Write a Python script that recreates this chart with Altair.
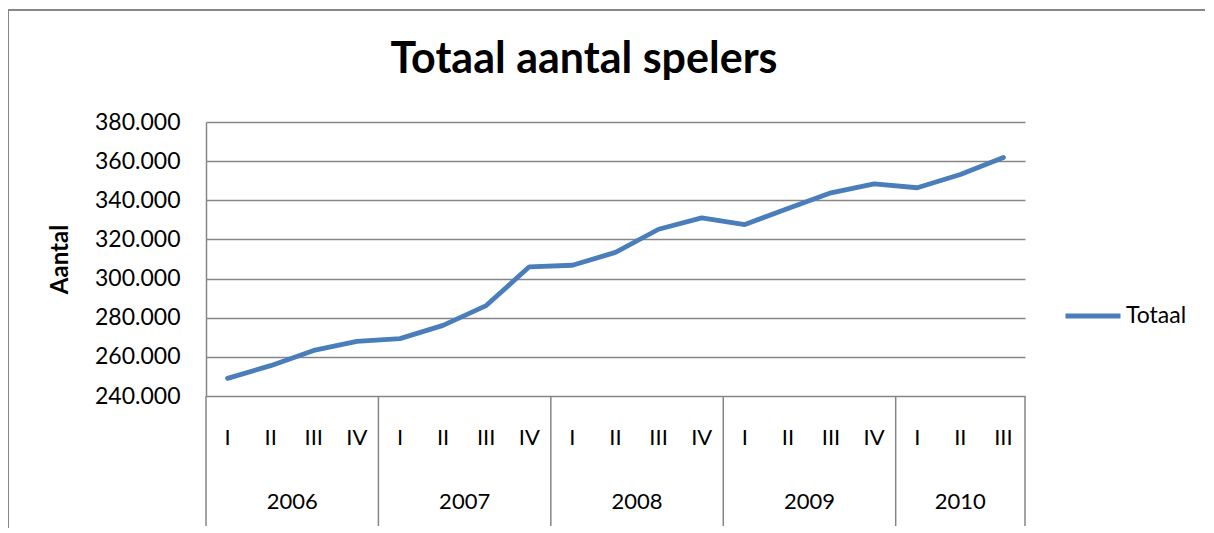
import altair as alt
import pandas as pd

# ---- data ----
years = ["2006"] * 4 + ["2007"] * 4 + ["2008"] * 4 + ["2009"] * 4 + ["2010"] * 3
quarters = ["I", "II", "III", "IV"] * 4 + ["I", "II", "III"]
values = [249000, 255500, 263300, 267900,
          269300, 276100, 286200, 306000,
          306800, 313400, 325200, 331000,
          327600, 335800, 343800, 348400,
          346400, 353200, 361900]
year_labels = ["2006", "2007", "2008", "2009", "2010"]
y_ticks = [240000, 260000, 280000, 300000, 320000, 340000, 360000, 380000]
series_name = "Totaal"

W, H = 819, 274
FONT = "Lato"
GRAY = "#868686"
BLUE = "#4A7EBB"

df = pd.DataFrame({
    "idx": list(range(len(values))),
    "year": years,
    "quarter": quarters,
    "value": values,
    "series": [series_name] * len(values),
})

year_df = df.groupby("year", as_index=False)["idx"].mean()
counts = df.groupby("year")["idx"].count().tolist()
bounds = [-0.5]
for c in counts:
    bounds.append(bounds[-1] + c)
sep_df = pd.DataFrame({"b": bounds})

xscale = alt.Scale(domain=[-0.5, len(values) - 0.5], nice=False, zero=False)
yscale = alt.Scale(domain=[240000, 380000], nice=False, zero=False)

one = pd.DataFrame({"a": [0]})

# outer chart border (top and left)
border_top = alt.Chart(one).mark_rule(color=GRAY, strokeWidth=2).encode(
    x=alt.value(-198), x2=alt.value(1010), y=alt.value(-112))
border_left = alt.Chart(one).mark_rule(color=GRAY, strokeWidth=2).encode(
    x=alt.value(-198), y=alt.value(-112), y2=alt.value(420))

title = alt.Chart(one).mark_text(
    text="Totaal aantal spelers", font=FONT, fontSize=43, fontWeight="bold",
    color="black", align="center", baseline="middle").encode(
    x=alt.value(378), y=alt.value(-62))

seps = alt.Chart(sep_df).mark_rule(color=GRAY, strokeWidth=1.5).encode(
    x=alt.X("b:Q", scale=xscale, axis=None),
    y=alt.value(H), y2=alt.value(H + 130))

q_text = alt.Chart(df).mark_text(
    font=FONT, fontSize=22, color="black", baseline="middle").encode(
    x=alt.X("idx:Q", scale=xscale, axis=None),
    y=alt.value(H + 42),
    text="quarter:N")

y_text = alt.Chart(year_df).mark_text(
    font=FONT, fontSize=22, color="black", baseline="middle").encode(
    x=alt.X("idx:Q", scale=xscale, axis=None),
    y=alt.value(H + 106),
    text="year:N")

line = alt.Chart(df).mark_line(
    strokeWidth=4.8, strokeCap="round", strokeJoin="round").encode(
    x=alt.X("idx:Q", scale=xscale, axis=None),
    y=alt.Y("value:Q", scale=yscale, axis=alt.Axis(
        values=y_ticks,
        labelExpr="replace(format(datum.value, ',.0f'), ',', '.')",
        labelFont=FONT, labelFontSize=23, labelColor="black", labelPadding=26,
        ticks=False, domain=True, domainColor=GRAY, domainWidth=1.5,
        grid=True, gridColor=GRAY, gridWidth=1.3,
        title="Aantal", titleFont=FONT, titleFontSize=24, titleFontWeight="bold",
        titleColor="black", titleX=-146, titleY=137, titleAngle=270,
        titleAlign="center", titleBaseline="middle")),
    color=alt.Color("series:N",
                    scale=alt.Scale(domain=[series_name], range=[BLUE]),
                    legend=alt.Legend(
                        title=None, orient="none", legendX=857, legendY=164,
                        symbolType="stroke", symbolStrokeWidth=4.8, symbolSize=3025,
                        labelFont=FONT, labelFontSize=23, labelColor="black",
                        labelOffset=3, padding=0)))

chart = alt.layer(border_top, border_left, title, seps, q_text, y_text, line).properties(
    width=W, height=H,
    background="white",
    autosize=alt.AutoSizeParams(type="none"),
    padding={"left": 198, "top": 114, "right": 180, "bottom": 132},
).configure_view(stroke="transparent", strokeWidth=0)

chart.save("out.html", embed_options={"renderer": "svg", "actions": False})
